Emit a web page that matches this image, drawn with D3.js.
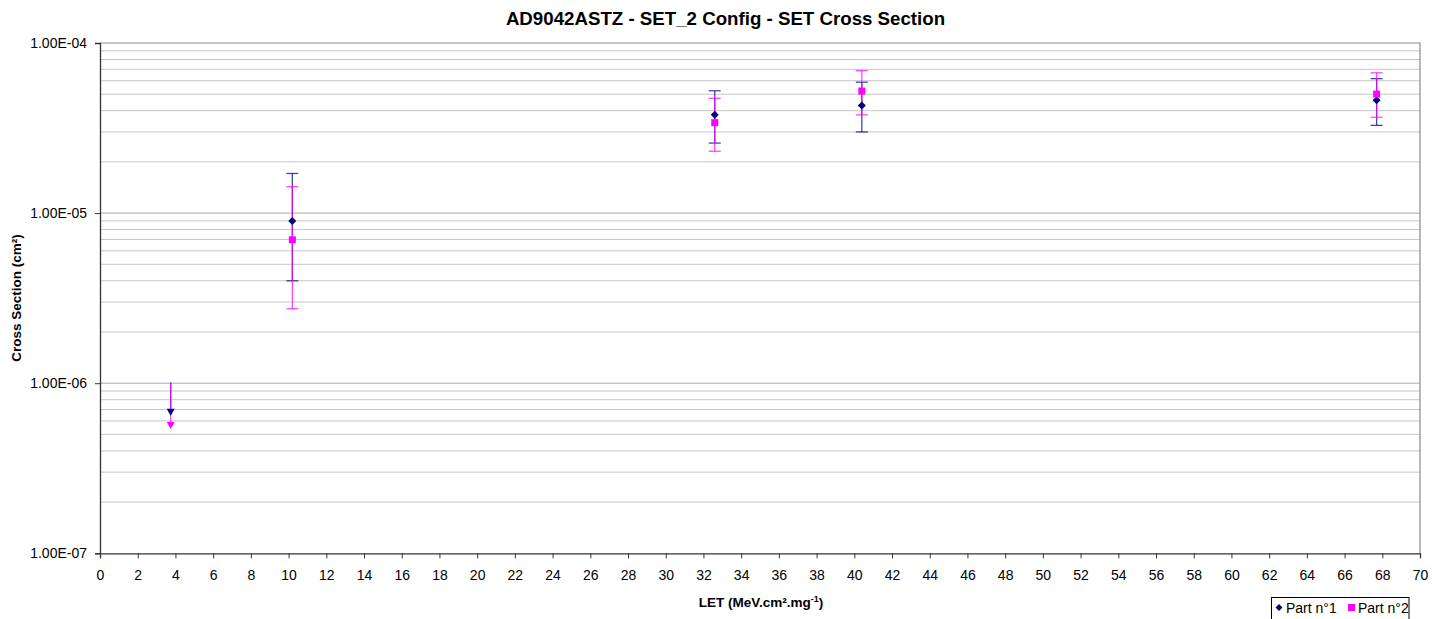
<!DOCTYPE html>
<html><head><meta charset="utf-8">
<script src="https://cdn.jsdelivr.net/npm/d3@7"></script>
<style>
html,body{margin:0;padding:0;background:#fff;}
text{font-family:"Liberation Sans",Arial,sans-serif;fill:#000;}
</style></head>
<body>
<svg id="chart" width="1442" height="619"></svg>
<script>
// ---- data ----
const letValues = [3.75, 10.2, 32.6, 40.4, 67.7];
const part1 = [6.75e-7, 9.0e-6, 3.78e-5, 4.29e-5, 4.6e-5];
const part1Hi = [1.01e-6, 1.71e-5, 5.24e-5, 5.88e-5, 6.17e-5];
const part1Lo = [null, 4.0e-6, 2.58e-5, 3.0e-5, 3.28e-5];
const part2 = [5.64e-7, 6.97e-6, 3.40e-5, 5.22e-5, 5.01e-5];
const part2Hi = [1.01e-6, 1.43e-5, 4.73e-5, 6.88e-5, 6.68e-5];
const part2Lo = [null, 2.74e-6, 2.31e-5, 3.78e-5, 3.66e-5];
const upperLimit = [true, false, false, false, false];
const seriesNames = ["Part n°1", "Part n°2"];
const xTicks = d3.range(0, 71, 2);
const yTicks = [1e-7, 1e-6, 1e-5, 1e-4];
const yTickLabels = ["1.00E-07", "1.00E-06", "1.00E-05", "1.00E-04"];
const titleText = "AD9042ASTZ - SET_2 Config - SET Cross Section";

// ---- layout ----
const svg = d3.select("#chart");
const L = 100, R = 1420, T = 43, B = 553.3;
const x = d3.scaleLinear().domain([0, 70]).range([L, R]);
const y = d3.scaleLog().domain([1e-7, 1e-4]).range([B, T]);

// gridlines
const minor = [];
[1e-7, 1e-6, 1e-5].forEach(d => { for (let k = 2; k <= 9; k++) minor.push(d * k); });
svg.append("g").selectAll("line").data(minor).join("line")
  .attr("x1", L).attr("x2", R).attr("y1", d => y(d)).attr("y2", d => y(d))
  .attr("stroke", "#c6c6c6").attr("stroke-width", 1);
svg.append("g").selectAll("line").data([1e-6, 1e-5]).join("line")
  .attr("x1", L).attr("x2", R).attr("y1", d => y(d)).attr("y2", d => y(d))
  .attr("stroke", "#a8a8a8").attr("stroke-width", 1);

// plot border (top/right)
svg.append("path").attr("d", `M${L},${T}H${R}V${B}`).attr("fill", "none")
  .attr("stroke", "#8a8a8a").attr("stroke-width", 1.2);

// axes
const xAxis = d3.axisBottom(x).tickValues(xTicks).tickSize(5).tickPadding(12).tickFormat(d3.format("d"));
const gx = svg.append("g").attr("transform", `translate(0,${B})`).call(xAxis);
gx.select(".domain").attr("stroke", "#333").attr("stroke-width", 1.3);
gx.selectAll(".tick line").attr("stroke", "#333");
gx.selectAll("text").style("font-size", "14px").attr("fill", "#000")
  .style("font-family", '"Liberation Sans",Arial,sans-serif');

const yAxis = d3.axisLeft(y).tickValues(yTicks).tickSize(5).tickPadding(8)
  .tickFormat((d, i) => yTickLabels[i]);
const gy = svg.append("g").attr("transform", `translate(${L},0)`).call(yAxis);
gy.select(".domain").attr("stroke", "#333").attr("stroke-width", 1.3);
gy.selectAll(".tick line").attr("stroke", "#333");
gy.selectAll("text").style("font-size", "14px").attr("fill", "#000")
  .style("font-family", '"Liberation Sans",Arial,sans-serif');

// titles
svg.append("text").attr("x", 725.5).attr("y", 24.5).attr("text-anchor", "middle")
  .style("font-size", "18.7px").style("font-weight", "bold").text(titleText);
svg.append("text").attr("transform", `translate(21,298) rotate(-90)`).attr("text-anchor", "middle")
  .style("font-size", "13.5px").style("font-weight", "bold").text("Cross Section (cm²)");
const xt = svg.append("text").attr("x", 761).attr("y", 606.5).attr("text-anchor", "middle")
  .style("font-size", "13.5px").style("font-weight", "bold");
xt.append("tspan").text("LET (MeV.cm².mg");
xt.append("tspan").attr("dy", -5).style("font-size", "9px").text("-1");
xt.append("tspan").attr("dy", 5).text(")");

// series
const colors = ["#000080", "#FF00FF"];
const series = [
  {v: part1, hi: part1Hi, lo: part1Lo, color: colors[0], shape: "diamond"},
  {v: part2, hi: part2Hi, lo: part2Lo, color: colors[1], shape: "square"}
];
const capW = 6;
series.forEach(s => {
  const g = svg.append("g").attr("stroke", s.color).attr("stroke-opacity", 0.72).attr("stroke-width", 1.3);
  letValues.forEach((xv, i) => {
    const top = y(s.hi[i]);
    const bot = s.lo[i] == null ? y(s.v[i]) : y(s.lo[i]);
    g.append("line").attr("x1", x(xv)).attr("x2", x(xv)).attr("y1", top).attr("y2", bot);
    if (!upperLimit[i]) {
      g.append("line").attr("x1", x(xv) - capW).attr("x2", x(xv) + capW).attr("y1", top).attr("y2", top);
      g.append("line").attr("x1", x(xv) - capW).attr("x2", x(xv) + capW).attr("y1", bot).attr("y2", bot);
    }
  });
});
series.forEach(s => {
  const g = svg.append("g").attr("fill", s.color);
  letValues.forEach((xv, i) => {
    const cx = x(xv), cy = y(s.v[i]);
    if (upperLimit[i]) {
      g.append("path").attr("d", `M${cx - 4},${cy - 3.5}L${cx + 4},${cy - 3.5}L${cx},${cy + 3.5}Z`);
    } else if (s.shape === "diamond") {
      g.append("path").attr("d", `M${cx},${cy - 4}L${cx + 4},${cy}L${cx},${cy + 4}L${cx - 4},${cy}Z`);
    } else {
      g.append("rect").attr("x", cx - 3.5).attr("y", cy - 3.5).attr("width", 7).attr("height", 7);
    }
  });
});

// legend
const lg = svg.append("g");
lg.append("rect").attr("x", 1271.5).attr("y", 597.5).attr("width", 137.5).attr("height", 30)
  .attr("fill", "#fff").attr("stroke", "#000").attr("stroke-width", 1);
lg.append("path").attr("d", "M1279,604L1282.5,607.5L1279,611L1275.5,607.5Z").attr("fill", colors[0]);
lg.append("text").attr("x", 1286).attr("y", 613).style("font-size", "14px").text(seriesNames[0]);
lg.append("rect").attr("x", 1348).attr("y", 604).attr("width", 7).attr("height", 7).attr("fill", colors[1]);
lg.append("text").attr("x", 1358).attr("y", 613).style("font-size", "14px").text(seriesNames[1]);
</script>
</body></html>
